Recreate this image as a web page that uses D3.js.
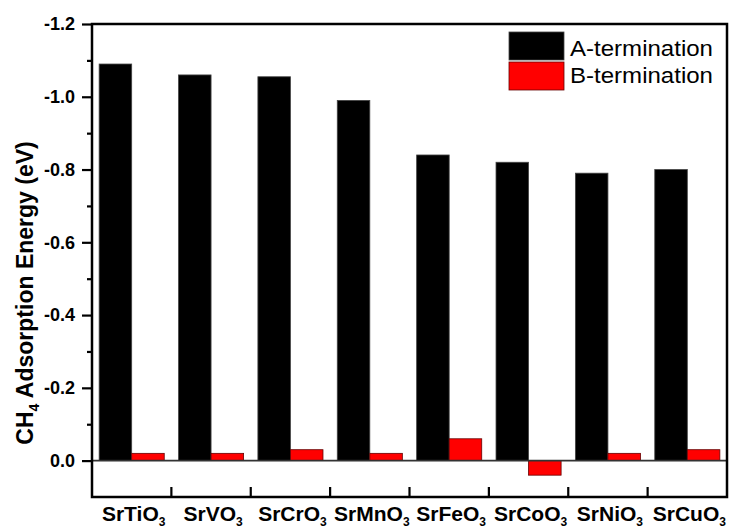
<!DOCTYPE html>
<html>
<head>
<meta charset="utf-8">
<script src="https://cdn.jsdelivr.net/npm/d3@7"></script>
<style>
  html, body { margin: 0; padding: 0; background: #fff; }
  svg { display: block; font-family: Arial, "Liberation Sans", sans-serif; }
</style>
</head>
<body>
<div id="chart"></div>
<script>
// --- data ---
const compounds = ["SrTiO", "SrVO", "SrCrO", "SrMnO", "SrFeO", "SrCoO", "SrNiO", "SrCuO"];
const series = ["A-termination", "B-termination"];
const aTermination = [-1.09, -1.06, -1.055, -0.99, -0.84, -0.82, -0.79, -0.80];
const bTermination = [-0.02, -0.02, -0.03, -0.02, -0.06, 0.04, -0.02, -0.03];
const yTicks = [0.0, -0.2, -0.4, -0.6, -0.8, -1.0, -1.2];
const yMinorTicks = [-0.1, -0.3, -0.5, -0.7, -0.9, -1.1];

const W = 734, H = 529;
const colors = { "A-termination": "#000000", "B-termination": "#ff0000" };

const svg = d3.select("#chart").append("svg")
  .attr("width", W).attr("height", H);

const mLeft = 92, mRight = 727, mTop = 24, mBottom = 497;

const x = d3.scaleBand().domain(compounds).range([mLeft, mRight]).padding(0);
const xs = d3.scaleBand().domain(series)
  .range([x.bandwidth() * 0.09, x.bandwidth() * 0.91]).padding(0);
const y = d3.scaleLinear().domain([0.1, -1.2]).range([mBottom, mTop]);

const rows = compounds.map((c, i) => ({
  name: c,
  values: [
    { key: "A-termination", v: aTermination[i] },
    { key: "B-termination", v: bTermination[i] }
  ]
}));

// bars
const groups = svg.append("g").selectAll("g").data(rows).join("g")
  .attr("transform", d => `translate(${x(d.name)},0)`);
groups.selectAll("rect").data(d => d.values).join("rect")
  .attr("x", d => xs(d.key))
  .attr("width", xs.bandwidth())
  .attr("y", d => Math.min(y(d.v), y(0)))
  .attr("height", d => Math.abs(y(d.v) - y(0)))
  .attr("fill", d => colors[d.key])
  .attr("stroke", d => d.key === "B-termination" ? "#600" : "#444")
  .attr("stroke-width", 0.8);

// zero line
svg.append("line")
  .attr("x1", mLeft).attr("x2", mRight)
  .attr("y1", y(0)).attr("y2", y(0))
  .attr("stroke", "#333").attr("stroke-width", 1.6);

// frame
svg.append("rect")
  .attr("x", mLeft).attr("y", mTop)
  .attr("width", mRight - mLeft).attr("height", mBottom - mTop)
  .attr("fill", "none").attr("stroke", "#000").attr("stroke-width", 2.5);

// y axis
const yAxis = d3.axisLeft(y).tickValues(yTicks).tickSize(10).tickPadding(7)
  .tickFormat(d => d === 0 ? "0.0" : d3.format(".1f")(d).replace("\u2212", "-"));
const ya = svg.append("g").attr("transform", `translate(${mLeft},0)`).call(yAxis);
ya.select(".domain").remove();
ya.selectAll(".tick line").attr("stroke", "#000").attr("stroke-width", 2.2);
ya.selectAll(".tick text").attr("font-size", 18).attr("font-weight", "bold")
  .attr("fill", "#000").attr("font-family", "Arial, 'Liberation Sans', sans-serif");

const ym = d3.axisLeft(y).tickValues(yMinorTicks).tickSize(5).tickFormat("");
const yma = svg.append("g").attr("transform", `translate(${mLeft},0)`).call(ym);
yma.select(".domain").remove();
yma.selectAll(".tick line").attr("stroke", "#000").attr("stroke-width", 2.2);

// x ticks (inward, at band boundaries)
const bounds = compounds.slice(1).map(c => x(c));
svg.append("g").selectAll("line").data(bounds).join("line")
  .attr("x1", d => d).attr("x2", d => d)
  .attr("y1", mBottom).attr("y2", mBottom - 10)
  .attr("stroke", "#000").attr("stroke-width", 2.2);

// x labels
const xl = svg.append("g").selectAll("text").data(compounds).join("text")
  .attr("x", d => x(d) + x.bandwidth() / 2 + 2)
  .attr("y", 521)
  .attr("text-anchor", "middle")
  .attr("font-size", 21).attr("font-weight", "bold").attr("fill", "#000");
xl.append("tspan").text(d => d);
xl.append("tspan").attr("font-size", 12).attr("dy", 5).text("3");

// y title
const yt = svg.append("text")
  .attr("transform", `translate(33,293) rotate(-90)`)
  .attr("text-anchor", "middle")
  .attr("font-size", 23).attr("font-weight", "bold").attr("fill", "#000");
yt.append("tspan").text("CH");
yt.append("tspan").attr("font-size", 14).attr("dy", 6).text("4");
yt.append("tspan").attr("dy", -6).text(" Adsorption Energy (eV)");

// legend
const lg = svg.append("g").selectAll("g").data(series).join("g")
  .attr("transform", (d, i) => `translate(509,${32 + i * 30})`);
lg.append("rect").attr("width", 55).attr("height", 28)
  .attr("fill", d => colors[d])
  .attr("stroke", d => d === "B-termination" ? "#600" : "#444").attr("stroke-width", 0.8);
lg.append("text").attr("x", 61).attr("y", (d, i) => 24 - i * 3)
  .attr("font-size", 22.5).attr("fill", "#000")
  .attr("textLength", 143).attr("lengthAdjust", "spacingAndGlyphs")
  .text(d => d);
</script>
</body>
</html>
